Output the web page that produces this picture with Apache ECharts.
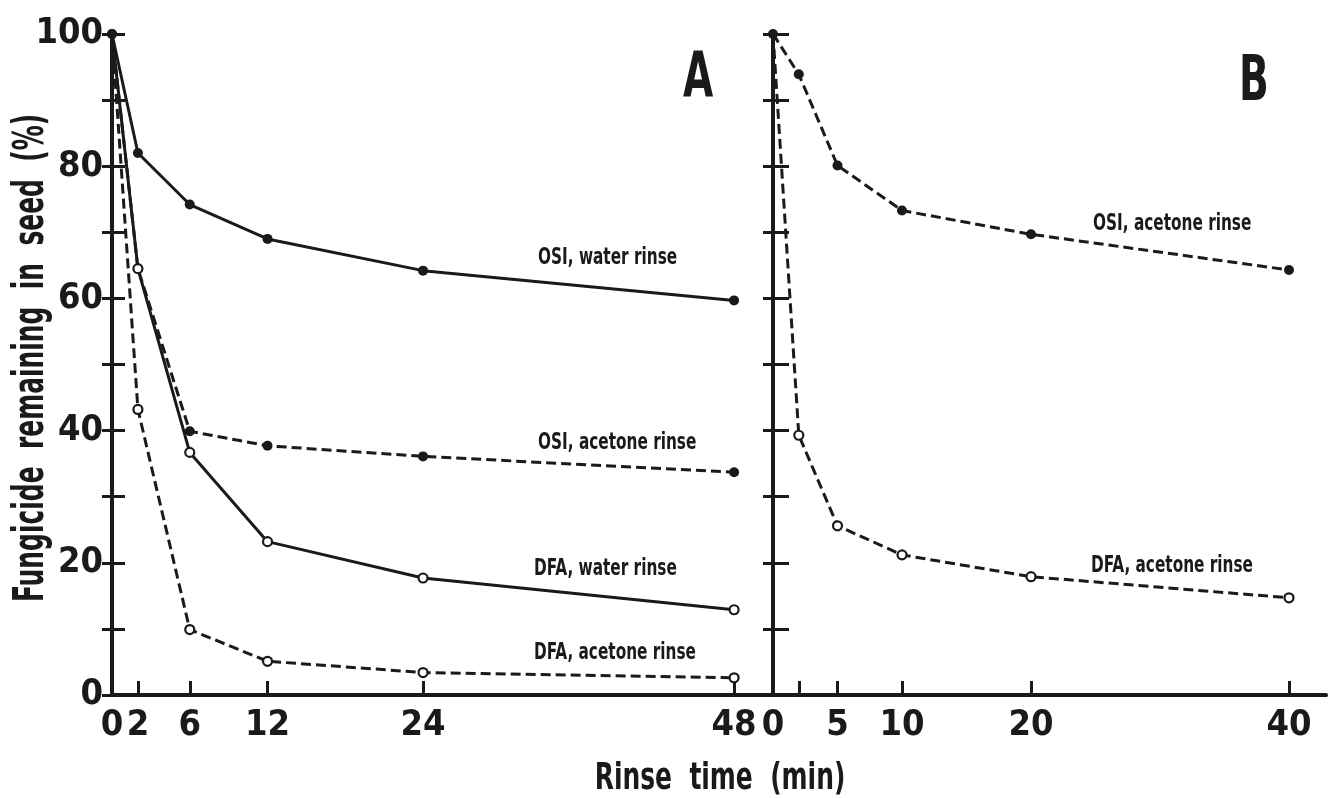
<!DOCTYPE html>
<html>
<head>
<meta charset="utf-8">
<title>Fungicide remaining in seed</title>
<script src="https://cdn.jsdelivr.net/npm/echarts@6/dist/echarts.min.js"></script>
<style>
  html, body { margin: 0; padding: 0; background: #fff; }
  #chart { width: 1328px; height: 798px; }
</style>
</head>
<body>
<div id="chart"></div>
<script>
// panel A: rinse time (min), % remaining
const minutesA = [0, 2, 6, 12, 24, 48];
const osiWaterA = [100, 82.0, 74.2, 69.0, 64.2, 59.7];
const osiAcetoneA = [100, 64.5, 39.9, 37.7, 36.1, 33.7];
const dfaWaterA = [100, 64.5, 36.7, 23.2, 17.7, 12.9];
const dfaAcetoneA = [100, 43.2, 9.9, 5.1, 3.4, 2.6];

// panel B
const minutesB = [0, 2, 5, 10, 20, 40];
const osiAcetoneB = [100, 93.9, 80.1, 73.3, 69.7, 64.3];
const dfaAcetoneB = [100, 39.3, 25.6, 21.2, 17.9, 14.7];

// axis ticks / labels
const tickA = [2, 6, 12, 24, 48];
const labelA = [0, 2, 6, 12, 24, 48];
const tickB = [2, 5, 10, 20, 40];
const labelB = [0, 5, 10, 20, 40];
const labelY = [0, 20, 40, 60, 80, 100];

const ink = "#1a1a1a";
const narrow = "'Liberation Sans Narrow', 'DejaVu Sans Condensed', sans-serif";

function pairs(xs, ys) {
  return xs.map((x, i) => [x, ys[i]]);
}

function lineSeries(xs, ys, dashed, open, xi, yi) {
  let data = pairs(xs, ys).map((p, i) => {
    // open circles sit under the axis corner at t = 0
    if (open && i === 0) return { value: p, symbol: "none" };
    return { value: p };
  });
  return {
    type: "line",
    xAxisIndex: xi,
    yAxisIndex: yi,
    data: data,
    symbol: "circle",
    symbolSize: open ? 9 : 10,
    showAllSymbol: true,
    animation: false,
    z: open ? 4 : 3,
    lineStyle: {
      color: ink,
      width: 3,
      type: dashed ? [10, 5] : "solid",
    },
    itemStyle: {
      color: open ? "#fff" : ink,
      borderColor: ink,
      borderWidth: open ? 2.2 : 0,
    },
  };
}

function label(text, x, y, size, sx, align, extra) {
  return Object.assign(
    {
      type: "text",
      x: x,
      y: y,
      scaleX: sx,
      style: {
        text: text,
        fontSize: size,
        fontWeight: "bold",
        fontFamily: narrow,
        fill: ink,
        align: align,
        verticalAlign: "middle",
      },
    },
    extra || {}
  );
}

let chart = echarts.init(document.getElementById("chart"));

let xMaxA = 661 / 12.96;
let xMaxB = 553 / 12.9;
let tickFont = 36;

let bottomAxis = (gi, max, ticks, labels) => ({
  type: "value",
  gridIndex: gi,
  min: 0,
  max: max,
  position: "bottom",
  splitLine: { show: false },
  axisLine: { show: true, lineStyle: { color: ink, width: 4 } },
  axisTick: {
    show: true,
    inside: true,
    length: 14,
    customValues: ticks,
    lineStyle: { color: ink, width: 3 },
  },
  axisLabel: {
    show: true,
    customValues: labels,
    showMinLabel: true,
    hideOverlap: false,
    margin: 13,
    color: ink,
    fontSize: tickFont,
    fontWeight: "bold",
    fontFamily: narrow,
  },
});

let topAxis = (gi, max) => ({
  type: "value",
  gridIndex: gi,
  min: 0,
  max: max,
  position: "top",
  splitLine: { show: false },
  axisLine: { show: true, lineStyle: { color: ink, width: 3 } },
  axisTick: { show: false },
  axisLabel: { show: false },
});

let sideAxis = (gi, pos, len, width, labels) => ({
  type: "value",
  gridIndex: gi,
  min: 0,
  max: 100,
  interval: 10,
  position: pos,
  splitLine: { show: false },
  axisLine: { show: true, lineStyle: { color: ink, width: width } },
  axisTick: {
    show: true,
    inside: true,
    length: len,
    lineStyle: { color: ink, width: 3 },
  },
  axisLabel: labels
    ? {
        show: true,
        customValues: labelY,
        margin: 9,
        color: ink,
        fontSize: tickFont,
        fontWeight: "bold",
        fontFamily: narrow,
      }
    : { show: false },
});

let option = {
  backgroundColor: "#fff",
  animation: false,
  grid: [
    { left: 112, top: 34, width: 661, height: 661 },
    { left: 773, top: 34, width: 553, height: 661 },
  ],
  xAxis: [
    bottomAxis(0, xMaxA, tickA, labelA),
    bottomAxis(1, xMaxB, tickB, labelB),
    topAxis(0, xMaxA),
    topAxis(1, xMaxB),
  ],
  yAxis: [
    sideAxis(0, "left", 13, 4, true),
    sideAxis(1, "left", 16, 4, false),
    sideAxis(0, "right", 10, 4, false),
    sideAxis(1, "right", 10, 3, false),
  ],
  series: [
    lineSeries(minutesA, osiWaterA, false, false, 0, 0),
    lineSeries(minutesA, osiAcetoneA, true, false, 0, 0),
    lineSeries(minutesA, dfaWaterA, false, true, 0, 0),
    lineSeries(minutesA, dfaAcetoneA, true, true, 0, 0),
    lineSeries(minutesB, osiAcetoneB, true, false, 1, 1),
    lineSeries(minutesB, dfaAcetoneB, true, true, 1, 1),
  ],
  graphic: [
    // panel letters
    label("A", 698, 80, 62, 0.7, "center"),
    label("B", 1254, 84, 62, 0.7, "center"),
    // axis titles
    label("Rinse  time  (min)", 720, 779, 38, 0.73, "center"),
    label("Fungicide  remaining  in  seed  (%)", 32, 358, 42, 0.66, "center", {
      rotation: Math.PI / 2,
    }),
    // curve labels
    label("OSI, water rinse", 538, 258, 23, 0.74, "left"),
    label("OSI, acetone rinse", 538, 443, 23, 0.74, "left"),
    label("DFA, water rinse", 534, 569, 23, 0.74, "left"),
    label("DFA, acetone rinse", 534, 653, 23, 0.74, "left"),
    label("OSI, acetone rinse", 1093, 224, 23, 0.74, "left"),
    label("DFA, acetone rinse", 1091, 566, 23, 0.74, "left"),
  ],
};

chart.setOption(option);
</script>
</body>
</html>
